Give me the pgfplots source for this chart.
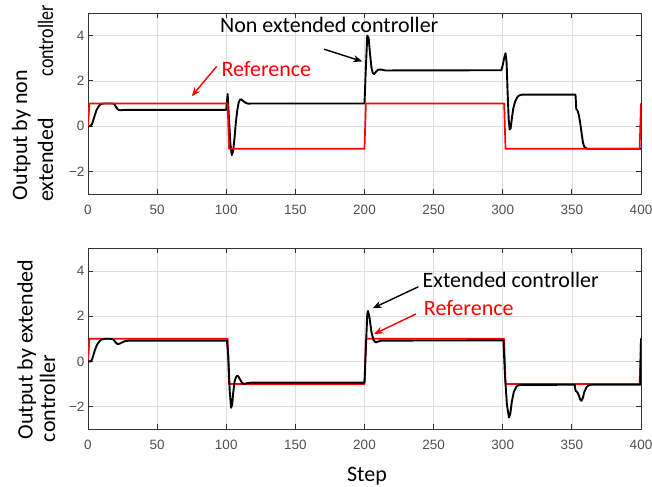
\documentclass[border=0pt]{standalone}
\usepackage{fontspec}
\setmainfont{Carlito}
\newfontfamily\tickfont{Liberation Sans}
\usepackage{pgfplots}
\pgfplotsset{compat=1.18}
\usetikzlibrary{arrows.meta}
\definecolor{refred}{RGB}{255,0,0}
\definecolor{gridgray}{RGB}{222,222,222}
\definecolor{axgray}{RGB}{50,50,50}
\definecolor{tickgray}{RGB}{80,80,80}
\pgfplotsset{myaxis/.style={
  scale only axis, width=553bp, height=181bp,
  xmin=0, xmax=400, ymin=-3, ymax=5,
  xtick={0,50,...,400}, ytick={-2,0,2,4}, yticklabels={−2,0,2,4},
  grid=major, major grid style={gridgray, line width=0.6bp},
  axis line style={axgray, line width=0.8bp},
  tick style={axgray, line width=0.8bp}, tick align=inside, major tick length=5bp,
  ticklabel style={font=\tickfont\fontsize{13.5bp}{14bp}\selectfont, text=tickgray},
  xticklabel style={yshift=-7.5bp},
  /pgf/number format/assume math mode=true,
  clip mode=individual,
  anchor=south west,
}}
\tikzset{
  outline/.style={black, line width=1.9bp, line join=round, line cap=round},
  refline/.style={refred, line width=1.7bp, line join=round},
  ann/.style={font=\fontsize{22bp}{26bp}\selectfont},
  arr/.style={line width=1.4bp, -{Stealth[length=9bp,width=7bp]}},
}
\begin{document}
\begin{tikzpicture}
\path[use as bounding box] (0,0) rectangle (652bp,487bp);
% ---------------- top axis ----------------
\begin{axis}[myaxis, at={(88bp,293bp)}]
\addplot[outline] coordinates {
(0,0) (2,0.02) (3,0.1) (4,0.3) (5,0.5) (6,0.68) (7,0.8) (8,0.9) (9,0.96) (10,0.99) (12,1.0) (18,1.0)
(19,0.97) (20,0.88) (21,0.78) (22,0.72) (23,0.70) (25,0.71) (27,0.72) (100,0.72)
(101,1.42) (102,0.3) (103,-0.8) (104,-1.28) (105,-1.1) (106,-0.5) (107,0.2) (108,0.7) (109,1.05)
(110,1.17) (111,1.18) (112,1.12) (114,1.03) (116,0.99) (118,1.0) (200,1.0)
(201,2.6) (202,4.0) (203,3.9) (204,3.2) (205,2.6) (206,2.35) (207,2.3) (208,2.38) (209,2.45)
(210,2.5) (212,2.5) (215,2.46) (299,2.47)
(300,2.7) (301,3.0) (302,3.22) (302.8,2.8) (303.5,1.5) (304.3,0.3) (305,-0.15) (305.7,-0.1)
(306.5,0.3) (307.5,0.75) (309,1.1) (310.5,1.28) (312,1.36) (314,1.39) (352.6,1.39)
(353.2,0.75) (354,0.7) (355,0.5) (356,0.15) (357,-0.3) (358,-0.72) (359,-0.92) (360.5,-0.99)
(362,-1.0) (400,-1.0)
};
\addplot[refline] coordinates {
(0,0) (1,1) (101,1) (102,-1) (200,-1) (201,1) (301,1) (302,-1) (399,-1) (400,1)
};
\node[ann] at (axis cs:174.5,4.46) {Non extended controller};
\draw[arr, black] (axis cs:170.7,3.40) -- (axis cs:198.4,2.86);
\node[ann, text=refred] at (axis cs:129,2.53) {Reference};
\draw[arr, refred] (axis cs:93.1,2.64) -- (axis cs:75,1.32);
\end{axis}
% ---------------- bottom axis ----------------
\begin{axis}[myaxis, at={(88bp,57.7bp)}]
\addplot[refline] coordinates {
(0,0) (1,1) (101,1) (102,-1) (200,-1) (201,1) (301,1) (302,-1) (399,-1) (400,1)
};
\addplot[outline] coordinates {
(0,0) (2,0.0) (3,0.1) (4,0.3) (5,0.5) (6,0.66) (7,0.78) (8,0.87) (9,0.93) (10,0.97) (12,1.0) (16,1.0)
(18,0.98) (19,0.92) (20,0.84) (21,0.78) (22,0.77) (23,0.79) (25,0.85) (27,0.9) (30,0.92) (100.5,0.92)
(101.5,0.2) (102.5,-1.3) (103.5,-2.05) (104.3,-1.9) (105,-1.4) (106,-0.9) (107,-0.7) (108,-0.63)
(109,-0.68) (110,-0.8) (111.5,-0.95) (113,-1.0) (115,-0.96) (118,-0.94) (200,-0.94)
(201,0.6) (202,2.1) (202.5,2.23) (203.5,2.0) (205,1.3) (206.5,0.95) (208,0.84) (210,0.88) (212,0.92)
(300.5,0.93) (301.5,-0.5) (303,-1.9) (304.5,-2.48) (305.5,-2.3) (306.5,-1.8) (308,-1.35) (310,-1.1)
(312,-1.04) (352,-1.03) (352.7,-1.3) (354,-1.36) (355,-1.5) (356,-1.68) (357,-1.74) (358,-1.6)
(359,-1.35) (360.5,-1.15) (362,-1.06) (364,-1.03) (399.5,-1.03) (400,1.0)
};
\node[ann] at (axis cs:305.8,3.60) {Extended controller};
\draw[arr, black] (axis cs:239,3.30) -- (axis cs:205.9,2.35);
\node[ann, text=refred] at (axis cs:275.4,2.35) {Reference};
\draw[arr, refred] (axis cs:237.3,2.10) -- (axis cs:206.9,1.21);
\end{axis}
% ---------------- labels ----------------
\node[ann, rotate=90, anchor=base] at (27bp,352bp) {Output by non};
\node[ann, rotate=90, anchor=base] at (53bp,383.5bp) {\makebox[197bp]{extended\hfill\scalebox{0.82}[1]{controller}}};
\node[ann, rotate=90, anchor=base] at (32.5bp,137.5bp) {Output by extended};
\node[ann, rotate=90, anchor=base] at (55bp,88.5bp) {controller};
\node[ann] at (367bp,11bp) {Step};
\end{tikzpicture}
\end{document}
